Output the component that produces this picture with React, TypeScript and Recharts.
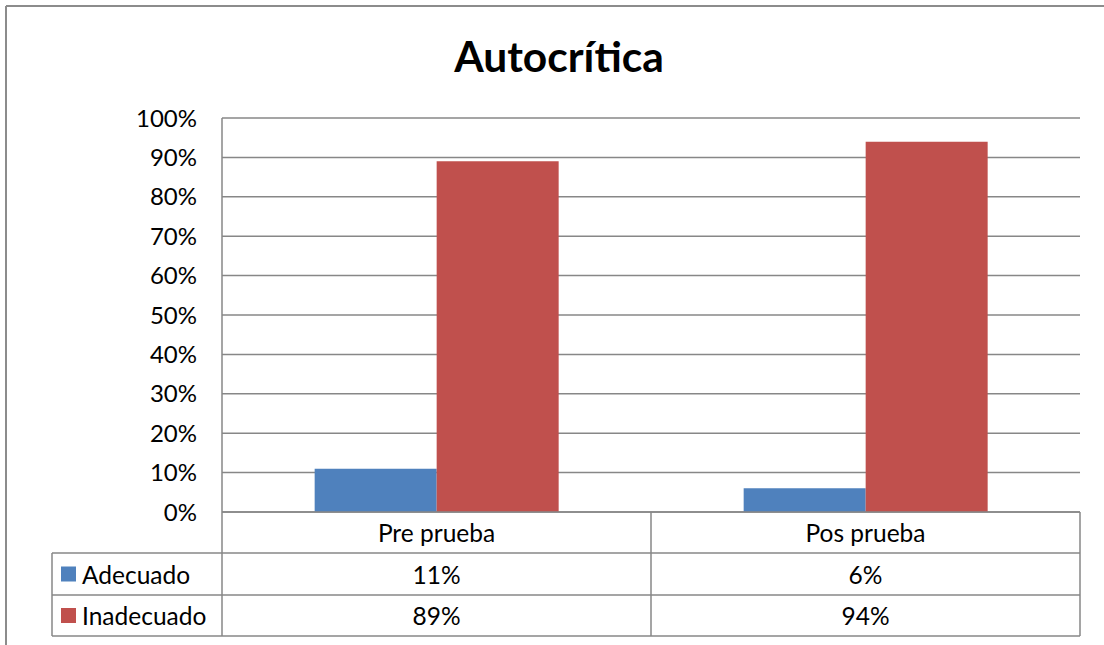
import React from 'react'
import { BarChart, Bar, XAxis, YAxis, CartesianGrid } from 'recharts'

const categories = ['Pre prueba', 'Pos prueba']
const adecuado = [0.11, 0.06]
const inadecuado = [0.89, 0.94]
const yTicks = [0, 0.1, 0.2, 0.3, 0.4, 0.5, 0.6, 0.7, 0.8, 0.9, 1]

const series = [
  { key: 'adecuado', name: 'Adecuado', color: '#4F81BD', values: adecuado },
  { key: 'inadecuado', name: 'Inadecuado', color: '#C0504D', values: inadecuado },
]

const data = categories.map((cat, i) => ({
  categoria: cat,
  adecuado: adecuado[i],
  inadecuado: inadecuado[i],
}))

// layout of the plot and of the data table under it
const W = 1104
const H = 645
const PLOT_LEFT = 222
const PLOT_RIGHT = 1080
const PLOT_TOP = 118
const PLOT_BOTTOM = 512
const ROW_LINES = [553, 595, 636]
const LEGEND_LEFT = 52
const BAND = (PLOT_RIGHT - PLOT_LEFT) / categories.length

const GRID = '#878787'
const FONT = 'Lato, "Open Sans", sans-serif'
const TABLE_FONT_SIZE = 24.5

const pct = (v: number) => `${Math.round(v * 100)}%`

// each x tick draws its column of the data table, the first one also the legend column
const TableColumn = (props: any) => {
  const { x, payload } = props
  const i = categories.indexOf(payload.value)
  const left = x - BAND / 2
  const right = x + BAND / 2
  const rowTops = [PLOT_BOTTOM, ...ROW_LINES]
  const rowMid = (r: number) => (rowTops[r] + rowTops[r + 1]) / 2
  return (
    <g>
      {i === 0 && (
        <>
          <line x1={left} x2={left} y1={PLOT_BOTTOM} y2={ROW_LINES[2]} stroke={GRID} strokeWidth={1.5} />
          <line x1={LEGEND_LEFT} x2={LEGEND_LEFT} y1={ROW_LINES[0]} y2={ROW_LINES[2]} stroke={GRID} strokeWidth={1.5} />
          {series.map((s, r) => (
            <g key={s.key}>
              <rect x={61} y={rowMid(r + 1) - 7.5} width={15} height={15} fill={s.color} />
              <text x={82} y={rowMid(r + 1)} dominantBaseline="central" fontSize={TABLE_FONT_SIZE} fill="#000">
                {s.name}
              </text>
            </g>
          ))}
        </>
      )}
      <line x1={right} x2={right} y1={PLOT_BOTTOM} y2={ROW_LINES[2]} stroke={GRID} strokeWidth={1.5} />
      {ROW_LINES.map((y) => (
        <line key={y} x1={i === 0 ? LEGEND_LEFT : left} x2={right} y1={y} y2={y} stroke={GRID} strokeWidth={1.5} />
      ))}
      <text x={x} y={rowMid(0)} textAnchor="middle" dominantBaseline="central" fontSize={TABLE_FONT_SIZE} fill="#000">
        {payload.value}
      </text>
      {series.map((s, r) => (
        <text key={s.key} x={x} y={rowMid(r + 1)} textAnchor="middle" dominantBaseline="central" fontSize={TABLE_FONT_SIZE} fill="#000">
          {pct(s.values[i])}
        </text>
      ))}
    </g>
  )
}

export default function App() {
  return (
    <div style={{ position: 'absolute', left: 0, top: 0, width: W, height: H, overflow: 'hidden', background: '#fff', fontFamily: FONT }}>
      <svg width={W} height={H} style={{ position: 'absolute', left: 0, top: 0 }}>
        <line x1={6} x2={W} y1={6} y2={6} stroke="#8c8c8c" strokeWidth={2} />
        <line x1={6} x2={6} y1={6} y2={H} stroke="#8c8c8c" strokeWidth={2} />
        <text x={559} y={72} textAnchor="middle" fontSize={42.5} fontWeight={700} fill="#000" fontFamily={FONT}>
          Autocrítica
        </text>
      </svg>
      <div style={{ position: 'absolute', left: 0, top: 0 }}>
        <BarChart
          width={W}
          height={H}
          data={data}
          margin={{ top: PLOT_TOP, right: W - PLOT_RIGHT, bottom: H - ROW_LINES[2], left: PLOT_LEFT - 100 }}
          barCategoryGap="21.6%"
          barGap={0}
          style={{ fontFamily: FONT }}
        >
          <CartesianGrid vertical={false} stroke={GRID} strokeWidth={1.5} />
          <XAxis
            dataKey="categoria"
            height={ROW_LINES[2] - PLOT_BOTTOM}
            axisLine={{ stroke: GRID, strokeWidth: 1.5 }}
            tickLine={false}
            tickSize={0}
            tick={<TableColumn />}
            interval={0}
          />
          <YAxis
            width={100}
            domain={[0, 1]}
            ticks={yTicks}
            tickFormatter={pct}
            axisLine={{ stroke: GRID, strokeWidth: 1.5 }}
            tickLine={false}
            tickSize={0}
            tickMargin={25}
            tick={{ fill: '#000', fontSize: 24 }}
          />
          {series.map((s) => (
            <Bar key={s.key} dataKey={s.key} name={s.name} fill={s.color} isAnimationActive={false} />
          ))}
        </BarChart>
      </div>
    </div>
  )
}
